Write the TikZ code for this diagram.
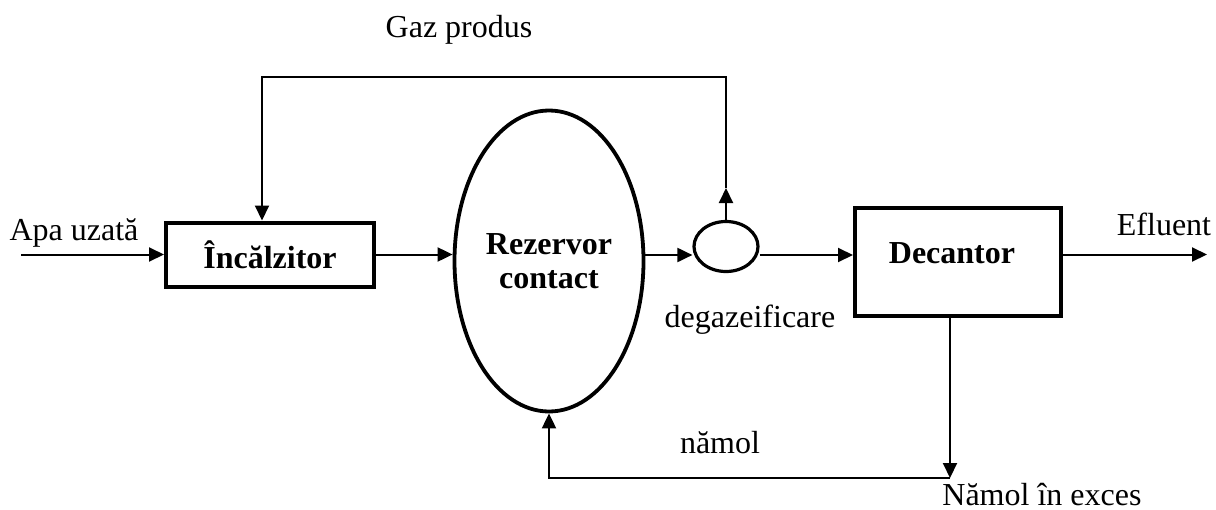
\documentclass[tikz,border=0pt]{standalone}
\usepackage{fontspec}
\setmainfont{Liberation Serif}
\usetikzlibrary{arrows.meta,shapes.geometric}

\newcommand{\diagfont}{\fontsize{16}{18}\selectfont}

\tikzset{
  flow/.style={line width=1pt,-{Triangle[length=7.5pt,width=7pt]}},
  unitbox/.style={draw,line width=2pt,inner sep=0pt,font=\diagfont\bfseries},
  tank/.style={draw,ellipse,line width=1.9pt,inner sep=0pt,font=\diagfont\bfseries,align=center},
  lbl/.style={inner sep=0pt,anchor=base,font=\diagfont}
}

\begin{document}
\begin{tikzpicture}[x=0.5pt,y=-0.5pt]
\useasboundingbox (0,0) rectangle (1216,509);

% process units
\node[unitbox,minimum width=104pt,minimum height=32pt] (heat) at (270,254.5) {Încălzitor};
\node[tank,minimum width=94.5pt,minimum height=150.5pt] (rez) at (549,261) {Rezervor\\[-1pt]contact};
\node[draw,ellipse,line width=1.6pt,inner sep=0pt,minimum width=32pt,minimum height=25pt] (deg) at (726,246.5) {};
\node[unitbox,minimum width=103pt,minimum height=54pt,
      label={[xshift=-3pt,yshift=4.5pt,font=\diagfont\bfseries]center:Decantor}] (dec) at (958,262) {};

% free ends of the connectors
\coordinate (in)     at (21,254.5);
\coordinate (out)    at (1207,254.5);
\coordinate (gastip) at (726,188);
\coordinate (gastop) at (262,77);
\coordinate (split)  at (950,478);

% main line
\draw[flow] (in) -- (heat.west |- in);
\draw[flow] (heat.east) -- (heat.east -| rez.west);
\draw[flow] (rez.east |- 0,255) -- (deg.west |- 0,255);
\draw[flow] (deg.east |- 0,255) -- (dec.west |- 0,255);
\draw[flow] (dec.east |- out) -- (out);

% gas return to the heater
\draw[flow] (deg.north) -- (gastip);
\draw[flow] (gastip) |- (gastop) -- (gastop |- heat.north);

% sludge
\draw[flow] (dec.south -| split) -- (split);
\draw[flow] (split) -| (rez.south);

% labels
\node[lbl] (tgas) at (459,37) {Gaz produs};
\node[lbl] (tin)  at (74,240) {Apa uzată};
\node[lbl] (tout) at (1164,235) {Efluent};
\node[lbl] (tdeg) at (750,327) {degazeificare};
\node[lbl] (tnam) at (720,453) {nămol};
\node[lbl,anchor=base west] (texc) at (942,505) {Nămol în exces};
\end{tikzpicture}
\end{document}
